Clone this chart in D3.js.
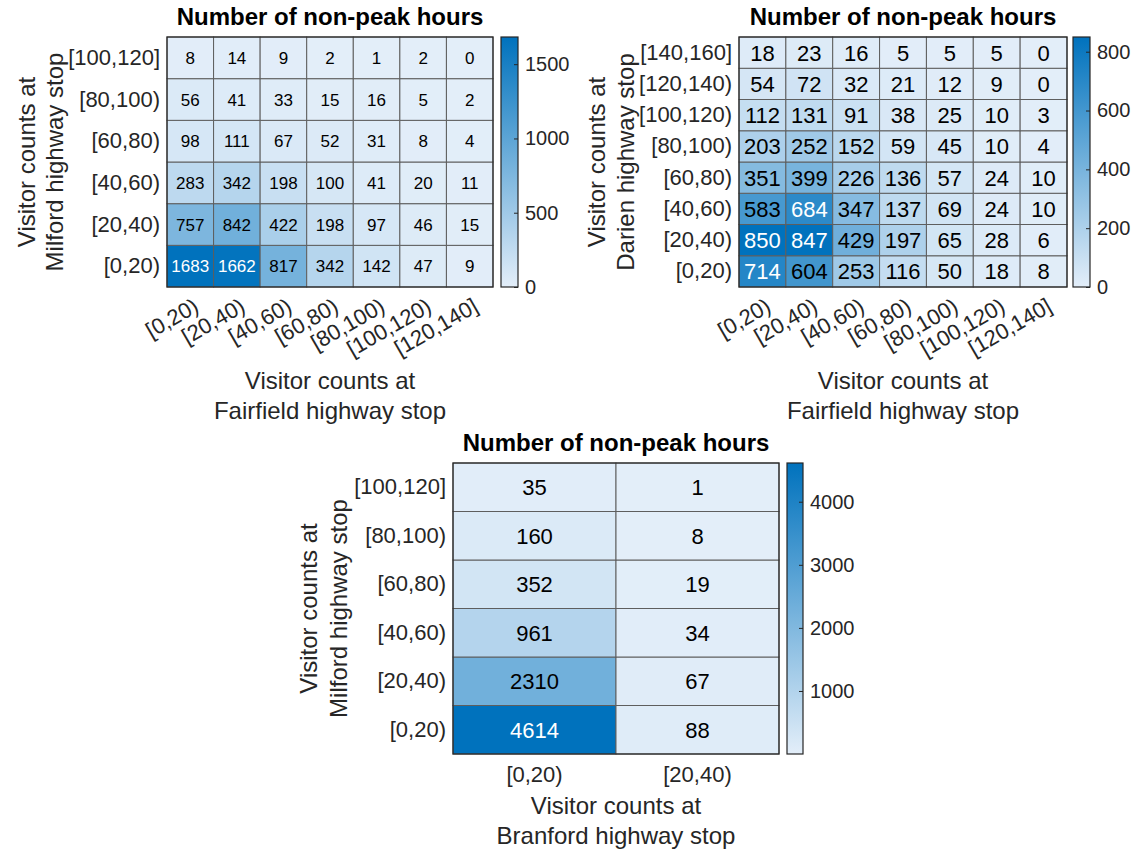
<!DOCTYPE html>
<html>
<head>
<meta charset="utf-8">
<script src="https://cdn.jsdelivr.net/npm/d3@7"></script>
<style>
  html, body { margin: 0; padding: 0; background: #fff; }
  svg { display: block; }
</style>
</head>
<body>
<svg id="fig" width="1135" height="851"></svg>
<script>
// Bin labels for each highway stop
const fairfieldBins = ["[0,20)", "[20,40)", "[40,60)", "[60,80)", "[80,100)", "[100,120)", "[120,140]"];
const milfordBins   = ["[0,20)", "[20,40)", "[40,60)", "[60,80)", "[80,100)", "[100,120]"];
const darienBins    = ["[0,20)", "[20,40)", "[40,60)", "[60,80)", "[80,100)", "[100,120)", "[120,140)", "[140,160]"];
const branfordBins  = ["[0,20)", "[20,40)"];

// Counts of non-peak hours; one row per y bin (ascending), one column per x bin
const milfordVsFairfield = [
  [1683, 1662, 817, 342, 142, 47, 9],
  [757, 842, 422, 198, 97, 46, 15],
  [283, 342, 198, 100, 41, 20, 11],
  [98, 111, 67, 52, 31, 8, 4],
  [56, 41, 33, 15, 16, 5, 2],
  [8, 14, 9, 2, 1, 2, 0]
];
const darienVsFairfield = [
  [714, 604, 253, 116, 50, 18, 8],
  [850, 847, 429, 197, 65, 28, 6],
  [583, 684, 347, 137, 69, 24, 10],
  [351, 399, 226, 136, 57, 24, 10],
  [203, 252, 152, 59, 45, 10, 4],
  [112, 131, 91, 38, 25, 10, 3],
  [54, 72, 32, 21, 12, 9, 0],
  [18, 23, 16, 5, 5, 5, 0]
];
const milfordVsBranford = [
  [4614, 88],
  [2310, 67],
  [961, 34],
  [352, 19],
  [160, 8],
  [35, 1]
];

// Colour bar tick values
const ticksMF = [0, 500, 1000, 1500];
const ticksDF = [0, 200, 400, 600, 800];
const ticksMB = [1000, 2000, 3000, 4000];

const chartTitle = "Number of non-peak hours";

const FONT = "'Liberation Sans', Arial, Helvetica, sans-serif";
const LIGHT = "#e3eef9";
const DARK = "#0072bd";
const INK = "#262626";

const svg = d3.select("#fig");

let gradId = 0;

function heatmap(o) {
  const g = svg.append("g");
  const flat = o.values.flat();
  const vMin = d3.min(flat), vMax = d3.max(flat);
  const color = d3.scaleLinear().domain([vMin, vMax]).range([LIGHT, DARK]).interpolate(d3.interpolateRgb);

  const x = d3.scaleBand().domain(o.xCats).range([o.x0, o.x0 + o.w]);
  const y = d3.scaleBand().domain(o.yCats.slice().reverse()).range([o.y0, o.y0 + o.h]);

  const cells = [];
  o.values.forEach((row, i) => row.forEach((v, j) => cells.push({ xc: o.xCats[j], yc: o.yCats[i], v })));

  g.selectAll("rect.cell").data(cells).join("rect")
    .attr("class", "cell")
    .attr("x", d => x(d.xc)).attr("y", d => y(d.yc))
    .attr("width", x.bandwidth()).attr("height", y.bandwidth())
    .attr("fill", d => color(d.v))
    .attr("stroke", "#5e5e5e").attr("stroke-width", 1);

  g.selectAll("text.val").data(cells).join("text")
    .attr("class", "val")
    .attr("x", d => x(d.xc) + x.bandwidth() / 2)
    .attr("y", d => y(d.yc) + y.bandwidth() / 2)
    .attr("text-anchor", "middle").attr("dy", "0.36em")
    .attr("font-family", FONT).attr("font-size", o.cellFont)
    .attr("fill", d => (d.v - vMin) / (vMax - vMin) > 0.75 ? "#ffffff" : "#000000")
    .text(d => d.v);

  g.append("rect")
    .attr("x", o.x0).attr("y", o.y0).attr("width", o.w).attr("height", o.h)
    .attr("fill", "none").attr("stroke", INK).attr("stroke-width", 1.2);

  // y axis tick labels
  const ya = g.append("g").attr("transform", `translate(${o.x0},0)`)
    .call(d3.axisLeft(y).tickSize(0).tickPadding(7));
  ya.select(".domain").remove();
  ya.selectAll("text").attr("font-family", FONT).attr("font-size", 22).attr("fill", INK);

  // x axis tick labels
  const xa = g.append("g").attr("transform", `translate(0,${o.y0 + o.h})`)
    .call(d3.axisBottom(x).tickSize(0).tickPadding(12));
  xa.select(".domain").remove();
  xa.selectAll("text").attr("font-family", FONT).attr("font-size", 22).attr("fill", INK);
  if (o.rotate) {
    xa.selectAll("text")
      .attr("text-anchor", "end")
      .attr("y", 0).attr("x", 0).attr("dy", "0.71em")
      .attr("transform", "translate(2,10) rotate(-30)");
  }

  // title
  g.append("text")
    .attr("x", o.x0 + o.w / 2).attr("y", o.titleY)
    .attr("text-anchor", "middle")
    .attr("font-family", FONT).attr("font-size", 24).attr("font-weight", "bold")
    .attr("fill", "#000").text(chartTitle);

  // x label, two lines
  o.xLabel.forEach((t, i) => {
    g.append("text")
      .attr("x", o.x0 + o.w / 2).attr("y", o.xLabelY + i * 30)
      .attr("text-anchor", "middle")
      .attr("font-family", FONT).attr("font-size", 24).attr("fill", INK).text(t);
  });

  // y label, two lines
  o.yLabel.forEach((t, i) => {
    const cx = o.yLabelX[i], cy = o.y0 + o.h / 2;
    g.append("text")
      .attr("transform", `translate(${cx},${cy}) rotate(-90)`)
      .attr("text-anchor", "middle").attr("dy", "0.36em")
      .attr("font-family", FONT).attr("font-size", 24).attr("fill", INK).text(t);
  });

  // colour bar
  const id = "grad" + (gradId++);
  const grad = svg.append("defs").append("linearGradient")
    .attr("id", id).attr("x1", 0).attr("y1", 1).attr("x2", 0).attr("y2", 0);
  grad.append("stop").attr("offset", "0%").attr("stop-color", LIGHT);
  grad.append("stop").attr("offset", "100%").attr("stop-color", DARK);

  const cy = d3.scaleLinear().domain([vMin, vMax]).range([o.y0 + o.h, o.y0]);
  g.append("rect")
    .attr("x", o.cbX).attr("y", o.y0).attr("width", o.cbW).attr("height", o.h)
    .attr("fill", `url(#${id})`).attr("stroke", INK).attr("stroke-width", 1.2);

  const ca = g.append("g").attr("transform", `translate(${o.cbX + o.cbW},0)`)
    .call(d3.axisRight(cy).tickValues(o.cbTicks).tickSizeInner(-4).tickSizeOuter(0).tickPadding(7).tickFormat(d3.format("d")));
  ca.select(".domain").remove();
  ca.selectAll("line").attr("stroke", INK);
  ca.selectAll("text").attr("font-family", FONT).attr("font-size", 20).attr("fill", INK);
}

heatmap({
  xCats: fairfieldBins, yCats: milfordBins, values: milfordVsFairfield,
  x0: 167, y0: 37, w: 326, h: 250, cellFont: 17, rotate: true,
  cbX: 501, cbW: 17, cbTicks: ticksMF,
  titleY: 25,
  xLabel: ["Visitor counts at", "Fairfield highway stop"], xLabelY: 389,
  yLabel: ["Visitor counts at", "Milford highway stop"], yLabelX: [26, 54]
});

heatmap({
  xCats: fairfieldBins, yCats: darienBins, values: darienVsFairfield,
  x0: 739, y0: 37, w: 328, h: 250, cellFont: 22, rotate: true,
  cbX: 1073, cbW: 17, cbTicks: ticksDF,
  titleY: 25,
  xLabel: ["Visitor counts at", "Fairfield highway stop"], xLabelY: 389,
  yLabel: ["Visitor counts at", "Darien highway stop"], yLabelX: [596, 625]
});

heatmap({
  xCats: branfordBins, yCats: milfordBins, values: milfordVsBranford,
  x0: 453, y0: 463, w: 326, h: 291, cellFont: 22, rotate: false,
  cbX: 787, cbW: 16, cbTicks: ticksMB,
  titleY: 451,
  xLabel: ["Visitor counts at", "Branford highway stop"], xLabelY: 814,
  yLabel: ["Visitor counts at", "Milford highway stop"], yLabelX: [308, 338]
});
</script>
</body>
</html>
